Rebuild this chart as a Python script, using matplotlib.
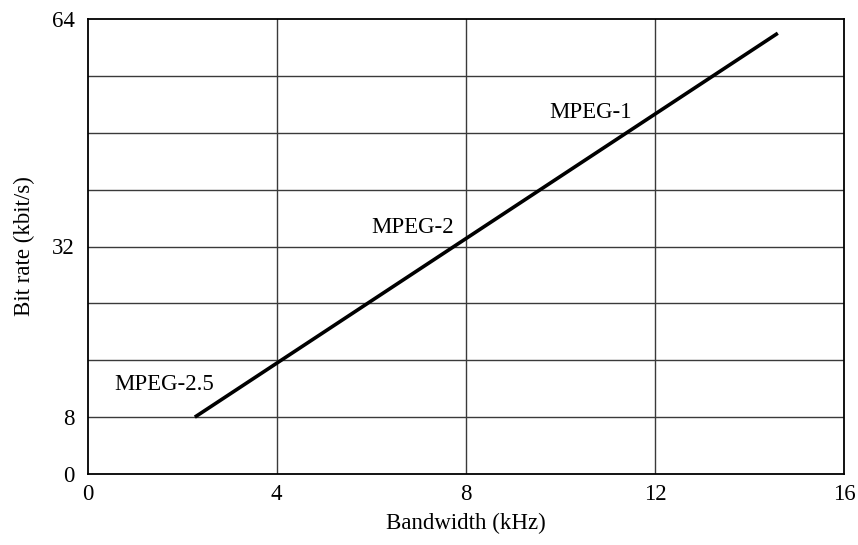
import matplotlib.pyplot as plt
import numpy as np

plt.rcParams['font.family'] = ['Liberation Serif', 'DejaVu Serif']

# bandwidth (kHz) against bit rate (kbit/s)
bandwidth = [2.27, 14.6]
bitrate = [8, 62]

labels = ['MPEG-2.5', 'MPEG-2', 'MPEG-1']
label_x = [1.62, 6.88, 10.65]
label_y = [12.6, 34.7, 50.8]

xticks = [0, 4, 8, 12, 16]
yticks = [0, 8, 32, 64]

fig = plt.figure(figsize=(8.58, 5.45), dpi=100)
ax = fig.add_axes([87.5 / 858, 71 / 545, (844 - 87.5) / 858, (474 - 19) / 545])

ax.plot(bandwidth, bitrate, color='black', lw=2.6, solid_capstyle='butt', zorder=3)

for t, x, y in zip(labels, label_x, label_y):
    ax.text(x, y, t, fontsize=16.5, ha='center', va='center')

ax.set_xlim(0, 16)
ax.set_ylim(0, 64)
ax.set_xticks(xticks)
ax.set_yticks(yticks)

# grid every 4 kHz and every 8 kbit/s
for gx in np.arange(4, 16, 4):
    ax.axvline(gx, color='#3a3a3a', lw=1.0, zorder=1)
for gy in np.arange(8, 64, 8):
    ax.axhline(gy, color='#3a3a3a', lw=1.0, zorder=1)

ax.tick_params(which='both', length=0, labelsize=16.5)
ax.tick_params(axis='x', pad=7)
ax.tick_params(axis='y', pad=9)
for s in ax.spines.values():
    s.set_linewidth(1.3)
    s.set_color('black')

ax.set_xlabel('Bandwidth (kHz)', fontsize=16.5, labelpad=6)
ax.set_ylabel('Bit rate (kbit/s)', fontsize=16.5, labelpad=12)

fig.savefig('out.png', dpi=100)
